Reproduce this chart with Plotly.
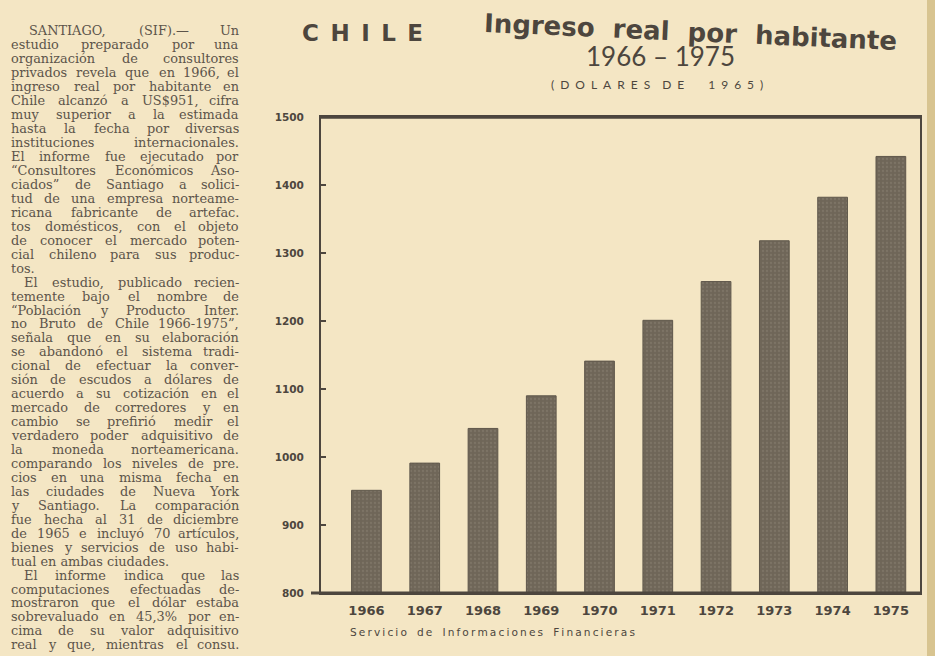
import unicodedata
import plotly.graph_objects as go

# ---- data ----
years = ["1966", "1967", "1968", "1969", "1970", "1971", "1972", "1973", "1974", "1975"]
ingreso = [951, 991, 1042, 1090, 1141, 1201, 1258, 1318, 1382, 1442]
y_ticks = [800, 900, 1000, 1100, 1200, 1300, 1400, 1500]

# article column: (line, indent, justified)
body_lines = [
    ("SANTIAGO, (SIF).— Un", 28, True),
    ("estudio preparado por una", 10, True),
    ("organización de consultores", 10, True),
    ("privados revela que en 1966, el", 10, True),
    ("ingreso real por habitante en", 10, True),
    ("Chile alcanzó a US$951, cifra", 10, True),
    ("muy superior a la estimada", 10, True),
    ("hasta la fecha por diversas", 10, True),
    ("instituciones internacionales.", 10, True),
    ("El informe fue ejecutado por", 10, True),
    ("“Consultores Económicos Aso-", 10, True),
    ("ciados” de Santiago a solici-", 10, True),
    ("tud de una empresa norteame-", 10, True),
    ("ricana fabricante de artefac.", 10, True),
    ("tos domésticos, con el objeto", 10, True),
    ("de conocer el mercado poten-", 10, True),
    ("cial chileno para sus produc-", 10, True),
    ("tos.", 10, False),
    ("El estudio, publicado recien-", 23, True),
    ("temente bajo el nombre de", 10, True),
    ("“Población y Producto Inter.", 10, True),
    ("no Bruto de Chile 1966-1975”,", 10, True),
    ("señala que en su elaboración", 10, True),
    ("se abandonó el sistema tradi-", 10, True),
    ("cional de efectuar la conver-", 10, True),
    ("sión de escudos a dólares de", 10, True),
    ("acuerdo a su cotización en el", 10, True),
    ("mercado de corredores y en", 10, True),
    ("cambio se prefirió medir el", 10, True),
    ("verdadero poder adquisitivo de", 10, True),
    ("la moneda norteamericana.", 10, True),
    ("comparando los niveles de pre.", 10, True),
    ("cios en una misma fecha en", 10, True),
    ("las ciudades de Nueva York", 10, True),
    ("y Santiago. La comparación", 10, True),
    ("fue hecha al 31 de diciembre", 10, True),
    ("de 1965 e incluyó 70 artículos,", 10, True),
    ("bienes y servicios de uso habi-", 10, True),
    ("tual en ambas ciudades.", 10, False),
    ("El informe indica que las", 23, True),
    ("computaciones efectuadas de-", 10, True),
    ("mostraron que el dólar estaba", 10, True),
    ("sobrevaluado en 45,3% por en-", 10, True),
    ("cima de su valor adquisitivo", 10, True),
    ("real y que, mientras el consu.", 10, True),
]

W, H = 935, 656
L, R, T, B = 321, 15, 117, 63
PW, PH = W - L - R, H - T - B

def px(x):
    return (x - L) / PW

def py(y):
    return (H - B - y) / PH

INK = "#4d463e"
BAR = "#6f6658"
PAPER = "#f4e6c4"
SANS = "DejaVu Sans"
LATO = "Lato"
SERIF = "DejaVu Serif"
EN = "\u2002"
TH = "\u2009"

# approximate advance widths (em) of DejaVu Serif, used to justify the column
_LOW = dict(a=.596, b=.64, c=.56, d=.64, e=.592, f=.37, g=.64, h=.644, i=.32, j=.31,
            k=.61, l=.32, m=.948, n=.644, o=.602, p=.64, q=.64, r=.478, s=.513, t=.402,
            u=.644, v=.565, w=.856, x=.564, y=.565, z=.523)
_UP = dict(A=.722, B=.735, C=.734, D=.8, E=.726, F=.693, G=.8, H=.872, I=.436, J=.436,
           K=.77, L=.693, M=1.0, N=.837, O=.8, P=.673, Q=.8, R=.751, S=.685, T=.703,
           U=.812, V=.722, W=1.03, X=.722, Y=.667, Z=.685)
_PUN = {",": .318, ".": .318, "-": .338, "(": .39, ")": .39, "“": .5, "”": .5,
        "—": 1.0, "$": .636, "%": .95, " ": .318}

def text_w(s, size):
    tot = 0.0
    for ch in s:
        base = unicodedata.normalize("NFD", ch)[0]
        if base.isdigit():
            tot += .636
        elif base in _LOW:
            tot += _LOW[base]
        elif base in _UP:
            tot += _UP[base]
        else:
            tot += _PUN.get(base, .6)
    return tot * size

BODY_SIZE = 12.9
RIGHT = 240

fig = go.Figure()
fig.add_trace(go.Bar(
    x=years, y=ingreso,
    marker=dict(color=BAR, line=dict(color="#5f574b", width=1),
                pattern=dict(shape=".", fgcolor="#8a8172", bgcolor=BAR,
                             size=4, solidity=0.25)),
    hoverinfo="x+y",
))

ann = []
body_font = dict(family=SERIF, size=BODY_SIZE, color="#5c544a")
for i, (txt, xl, just) in enumerate(body_lines):
    yy = py(31 + i * 13.95)
    words = txt.split(" ")
    if not just or len(words) == 1:
        ann.append(dict(x=px(xl), y=yy, xref="paper", yref="paper", text=txt,
                        showarrow=False, xanchor="left", yanchor="middle",
                        borderpad=0, font=body_font))
        continue
    widths = [text_w(w, BODY_SIZE) for w in words]
    gap = (RIGHT - xl - sum(widths)) / (len(words) - 1)
    xpos = xl
    for k, w in enumerate(words):
        if k == len(words) - 1:
            ann.append(dict(x=px(RIGHT), y=yy, xref="paper", yref="paper", text=w,
                            showarrow=False, xanchor="right", yanchor="middle",
                            borderpad=0, font=body_font))
        else:
            ann.append(dict(x=px(xpos), y=yy, xref="paper", yref="paper", text=w,
                            showarrow=False, xanchor="left", yanchor="middle",
                            borderpad=0, font=body_font))
        xpos += widths[k] + gap

# titles
ann.append(dict(x=px(362), y=py(33), xref="paper", yref="paper",
                text=EN.join("CHILE"), showarrow=False, xanchor="center", yanchor="middle",
                font=dict(family=SANS, size=23, color=INK, weight="bold")))
ann.append(dict(x=px(690), y=py(32), xref="paper", yref="paper",
                text="Ingreso  real  por  habitante", showarrow=False, xanchor="center",
                yanchor="middle", textangle=2.5,
                font=dict(family=SANS, size=26, color=INK, weight="bold")))
ann.append(dict(x=px(660), y=py(56), xref="paper", yref="paper",
                text="1966 – 1975", showarrow=False, xanchor="center", yanchor="middle",
                font=dict(family=LATO, size=26, color=INK)))
dol = EN.join("(DOLARES") + EN * 2 + EN.join("DE") + EN * 4 + EN.join("1965)")
ann.append(dict(x=px(657), y=py(84), xref="paper", yref="paper",
                text=dol, showarrow=False,
                xanchor="center", yanchor="middle",
                font=dict(family=LATO, size=12, color=INK)))
serv = "   ".join(TH.join(w) for w in ["Servicio", "de", "Informaciones", "Financieras"])
ann.append(dict(x=px(348), y=py(632), xref="paper", yref="paper",
                text=serv, showarrow=False,
                xanchor="left", yanchor="middle",
                font=dict(family=SANS, size=10.6, color=INK)))

shapes = [
    dict(type="line", xref="paper", yref="paper", x0=0, x1=1, y0=1, y1=1,
         line=dict(color=INK, width=3.5)),
    dict(type="line", xref="paper", yref="paper", x0=px(311), x1=1, y0=0, y1=0,
         line=dict(color=INK, width=3)),
    dict(type="rect", xref="paper", yref="paper", x0=px(927), x1=px(936), y0=py(0), y1=py(656),
         fillcolor="#d8c490", line=dict(width=0), layer="below"),
]

fig.update_layout(
    width=W, height=H,
    margin=dict(l=L, r=R, t=T, b=B, autoexpand=False),
    paper_bgcolor=PAPER, plot_bgcolor=PAPER,
    showlegend=False,
    bargap=0.49,
    annotations=ann,
    shapes=shapes,
    xaxis=dict(
        type="category", range=[-0.78, 9.5],
        showline=True, linecolor=INK, linewidth=2, mirror=True,
        ticks="", showgrid=False, zeroline=False,
        tickfont=dict(family=SANS, size=13, color=INK, weight="bold"),
        ticklabelstandoff=4,
    ),
    yaxis=dict(
        range=[800, 1500], tickvals=y_ticks,
        showline=True, linecolor=INK, linewidth=2, mirror=True,
        ticks="inside", ticklen=5, tickcolor=INK, tickwidth=1.5,
        showgrid=False, zeroline=False,
        tickfont=dict(family=SANS, size=10.5, color=INK, weight="bold"),
        ticklabelstandoff=13,
    ),
)

fig.write_html("out.html", config={"displayModeBar": False},
               post_script="document.body.style.margin='0';")
